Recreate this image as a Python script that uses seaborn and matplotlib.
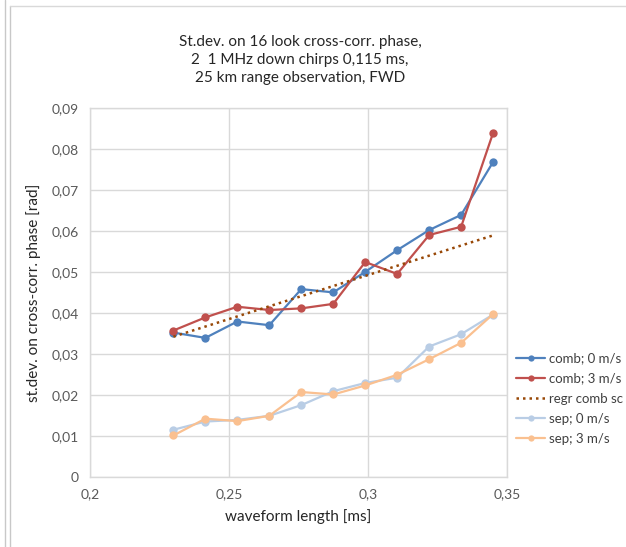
import matplotlib
matplotlib.use("Agg")
import matplotlib.pyplot as plt
from matplotlib.ticker import MultipleLocator, FuncFormatter
from matplotlib.lines import Line2D
import seaborn as sns

# ---- data ----
waveform_ms = [0.23, 0.2415, 0.253, 0.2645, 0.276, 0.2875, 0.299, 0.3105, 0.322, 0.3335, 0.345]
comb_0 = [0.0353, 0.0340, 0.0380, 0.0371, 0.0459, 0.0451, 0.0501, 0.0554, 0.0603, 0.0640, 0.0769]
comb_3 = [0.0358, 0.0390, 0.0416, 0.0408, 0.0412, 0.0423, 0.0525, 0.0496, 0.0591, 0.0611, 0.0840]
sep_0 = [0.0116, 0.0136, 0.0140, 0.0150, 0.0176, 0.0210, 0.0230, 0.0243, 0.0319, 0.0349, 0.0397]
sep_3 = [0.0102, 0.0143, 0.0137, 0.0150, 0.0208, 0.0202, 0.0224, 0.0250, 0.0288, 0.0328, 0.0398]
regr_x = [0.23, 0.345]
regr_y = [0.0343, 0.0590]
series_names = ["comb; 0 m/s", "comb; 3 m/s", "regr comb sc", "sep; 0 m/s", "sep; 3 m/s"]
title_lines = ["St.dev. on 16 look cross-corr. phase,",
               "2  1 MHz down chirps 0,115 ms,",
               "25 km range observation, FWD"]
x_label = "waveform length [ms]"
y_label = "st.dev. on cross-corr. phase [rad]"

colors = {"comb; 0 m/s": "#4F81BD", "comb; 3 m/s": "#C0504D", "regr comb sc": "#984807",
          "sep; 0 m/s": "#B9CDE5", "sep; 3 m/s": "#FAC090"}

sns.set_theme(style="white")
plt.rcParams["font.family"] = ["Lato", "DejaVu Sans"]

fig = plt.figure(figsize=(6.26, 5.47), dpi=100)
ax = fig.add_axes([90 / 626, 1 - 477.3 / 547, (507 - 90) / 626, (477.3 - 108.3) / 547])

for name, vals in [("comb; 0 m/s", comb_0), ("comb; 3 m/s", comb_3),
                   ("sep; 0 m/s", sep_0), ("sep; 3 m/s", sep_3)]:
    sns.lineplot(x=waveform_ms, y=vals, ax=ax, color=colors[name], linewidth=1.6,
                 marker="o", markersize=6, markeredgewidth=0, label=name, zorder=3)
sns.lineplot(x=regr_x, y=regr_y, ax=ax, color=colors["regr comb sc"], linewidth=1.8,
             linestyle=(0, (1, 1.6)), label="regr comb sc", zorder=4)

ax.set_xlim(0.2, 0.35)
ax.set_ylim(0, 0.09)
ax.xaxis.set_major_locator(MultipleLocator(0.05))
ax.yaxis.set_major_locator(MultipleLocator(0.01))
fmt = FuncFormatter(lambda v, p: f"{round(v, 4):g}".replace(".", ","))
ax.xaxis.set_major_formatter(fmt)
ax.yaxis.set_major_formatter(fmt)
ax.grid(True, color="#d9d9d9", linewidth=1)
ax.set_axisbelow(True)
for s in ax.spines.values():
    s.set_color("#d9d9d9")
    s.set_linewidth(1)
ax.tick_params(axis="both", length=0, labelsize=10, colors="#595959", pad=8)
ax.set_xlabel(x_label, fontsize=11, color="#262626", labelpad=6)
ax.set_ylabel(y_label, fontsize=11, color="#262626", labelpad=8)

fig.text(300 / 626, 1 - 60 / 547, "\n".join(title_lines), ha="center", va="center",
         fontsize=11, color="#262626", linespacing=1.4)

new_handles = []
for n in series_names:
    if n == "regr comb sc":
        new_handles.append(Line2D([], [], color=colors[n], linewidth=1.8, linestyle=(0, (1, 1.6))))
    else:
        new_handles.append(Line2D([], [], color=colors[n], linewidth=1.6, marker="o",
                                  markersize=4.5, markeredgewidth=0))
leg = ax.legend(new_handles, series_names, loc="upper left", bbox_to_anchor=(511 / 626, 1 - 347 / 547),
                bbox_transform=fig.transFigure, frameon=False, fontsize=9.5,
                handlelength=2.2, handletextpad=0.3, labelspacing=0.62, borderaxespad=0)
for t in leg.get_texts():
    t.set_color("#404040")

# chart frame
fig.add_artist(Line2D([5 / 626, 5 / 626], [0, 1], transform=fig.transFigure, color="#c8c8c8", linewidth=1))
fig.add_artist(Line2D([10 / 626, 10 / 626], [0, 1 - 6 / 547], transform=fig.transFigure, color="#c8c8c8", linewidth=1))
fig.add_artist(Line2D([10 / 626, 1], [1 - 6 / 547, 1 - 6 / 547], transform=fig.transFigure, color="#d9d9d9", linewidth=1))

fig.savefig("out.png", dpi=100)
